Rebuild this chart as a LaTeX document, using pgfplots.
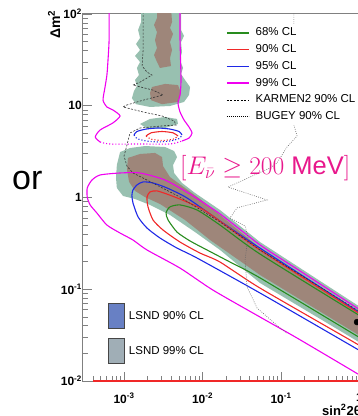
\documentclass[border=0pt]{standalone}
\usepackage{fix-cm}
\usepackage[no-math]{fontspec}
\setmainfont{Liberation Sans}
\usepackage{pgfplots}
\pgfplotsset{compat=1.18}

\definecolor{cl68}{RGB}{40,140,30}
\definecolor{cl90}{RGB}{240,40,40}
\definecolor{cl95}{RGB}{30,40,230}
\definecolor{cl99}{RGB}{240,0,240}
\definecolor{lsndA}{RGB}{152,192,176}
\definecolor{lsndB}{RGB}{158,134,122}
\definecolor{boxblue}{RGB}{104,128,196}
\definecolor{boxgrey}{RGB}{160,174,182}
\definecolor{boxedge}{RGB}{70,70,70}
\definecolor{axisgrey}{RGB}{128,128,128}
\definecolor{cutpink}{RGB}{232,24,140}

\newcommand{\tl}[1]{\textbf{10\textsuperscript{#1}}}

\pgfplotsset{
  cont/.style={line width=1.1pt, smooth, tension=0.4, forget plot},
  region/.style={draw=none, forget plot},
}

\begin{document}
\begin{tikzpicture}
\useasboundingbox (0pt,0pt) rectangle (358pt,416pt);
\clip (0pt,0pt) rectangle (358pt,416pt);

\begin{axis}[
  name=main,
  at={(83pt,35pt)}, anchor=south west,
  scale only axis, width=284.4pt, height=367pt,
  xmode=log, ymode=log,
  xmin=3e-4, xmax=1.26, ymin=0.01, ymax=100,
  axis line style={draw=axisgrey, line width=1pt},
  tick style={draw=axisgrey, line width=0.6pt},
  tick align=inside, xtick pos=left, ytick pos=left,
  major tick length=9pt, minor tick length=5pt,
  xtick={1e-3,1e-2,1e-1,1},
  xticklabels={\tl{-3},\tl{-2},\tl{-1},\textbf{1}},
  minor xtick={4e-4,5e-4,6e-4,7e-4,8e-4,9e-4,2e-3,3e-3,4e-3,5e-3,6e-3,7e-3,8e-3,9e-3,2e-2,3e-2,4e-2,5e-2,6e-2,7e-2,8e-2,9e-2,0.2,0.3,0.4,0.5,0.6,0.7,0.8,0.9},
  ytick={0.01,0.1,1,10,100},
  yticklabels={\tl{-2},\tl{-1},\textbf{1},\textbf{10},\tl{2}},
  minor ytick={0.02,0.03,0.04,0.05,0.06,0.07,0.08,0.09,0.2,0.3,0.4,0.5,0.6,0.7,0.8,0.9,2,3,4,5,6,7,8,9,20,30,40,50,60,70,80,90},
  ticklabel style={font=\fontsize{12}{12}\selectfont, text=black},
  yticklabel style={inner xsep=1pt},
  xticklabel style={inner ysep=6pt, yshift=-6pt},
  legend style={at={(0.4888,0.9734)}, anchor=north west, draw=none, fill=white,
    font=\fontsize{11.5}{11.5}\selectfont, inner xsep=4pt, inner ysep=4pt,
    row sep=6.7pt, column sep=6pt,
    nodes={inner sep=0pt, text height=8pt, text depth=2pt}},
  legend cell align=left,
  legend image code/.code={\draw[#1] (0pt,0pt) -- (22pt,0pt);},
]

% LSND 99% CL allowed region
\addplot[region, fill=lsndA] coordinates {
 (1.65e-3,116) (5.32e-3,116) (5.32e-3,67) (5.81e-3,57.7) (5.32e-3,49.5) (5.48e-3,38.5)
 (5.17e-3,31.5) (5.65e-3,25.8) (5.32e-3,22.2) (5.98e-3,19.1) (6.93e-3,16.0) (6.73e-3,13.1)
 (5.81e-3,11.0) (3.85e-3,9.94) (2.14e-3,9.7) (1.42e-3,10.4) (1.26e-3,12.1) (1.34e-3,14.5)
 (1.46e-3,16.4) (1.38e-3,19.1) (1.55e-3,21.6) (1.46e-3,25.8) (1.60e-3,30.0) (1.38e-3,34.9)
 (1.60e-3,40.5) (1.42e-3,47.1) (1.60e-3,54.7) (1.51e-3,67) (1.65e-3,81.8)} -- cycle;
\addplot[region, fill=lsndA] coordinates {
 (1.60e-3,6.33) (2.14e-3,7.18) (3.33e-3,7.54) (4.73e-3,7.18) (4.87e-3,6.33) (3.33e-3,5.72) (2.02e-3,5.57)} -- cycle;
\addplot[region, fill=lsndA] coordinates {
 (8.9e-4,3.13) (1.19e-3,3.46) (1.85e-3,3.64) (3.33e-3,3.55) (4.34e-3,3.21) (4.73e-3,2.76)
 (4.21e-3,2.26) (4.34e-3,1.85) (5.48e-3,1.44) (8.02e-3,1.12) (1.67e-2,0.731) (5.40e-2,0.327)
 (0.930,0.0674) (1.84,0.0474) (1.84,0.0183) (0.930,0.0273) (5.40e-2,0.117) (1.67e-2,0.268)
 (8.02e-3,0.420) (3.85e-3,0.645) (2.14e-3,0.830) (1.38e-3,0.963) (9.7e-4,1.04) (8.1e-4,1.27)
 (7.9e-4,1.63) (8.1e-4,2.26)} -- cycle;

% LSND 90% CL allowed region
\addplot[region, fill=lsndB] coordinates {
 (2.63e-3,116) (3.97e-3,116) (4.09e-3,81.8) (3.85e-3,70.4) (4.21e-3,60.6) (3.85e-3,49.5)
 (4.09e-3,40.5) (3.85e-3,33.1) (3.97e-3,27.1) (2.87e-3,25.8) (2.63e-3,30.0) (2.41e-3,35.7)
 (2.63e-3,42.6) (2.48e-3,52) (2.63e-3,63.6) (2.41e-3,75.9) (2.63e-3,90.4)} -- cycle;
\addplot[region, fill=lsndB] coordinates {
 (2.27e-3,16.0) (3.33e-3,17.3) (4.87e-3,16.8) (5.32e-3,13.8) (4.87e-3,11.0) (3.05e-3,10.4)
 (2.21e-3,11.5) (2.14e-3,13.8)} -- cycle;
\addplot[region, fill=lsndB] coordinates {
 (1.12e-3,2.70) (1.60e-3,2.98) (2.48e-3,3.06) (3.05e-3,2.76) (3.14e-3,2.20) (3.85e-3,1.67)
 (5.98e-3,1.27) (9.29e-3,0.963) (1.67e-2,0.645) (5.40e-2,0.281) (0.930,0.0565) (1.84,0.0397)
 (1.84,0.0229) (0.930,0.0325) (5.40e-2,0.143) (1.25e-2,0.344) (5.98e-3,0.569) (2.87e-3,0.850)
 (1.85e-3,1.01) (1.38e-3,1.18) (1.16e-3,1.48) (1.09e-3,2.00)} -- cycle;

% 99% CL contours
\addplot[cont, cl99] coordinates {
 (6.45e-4,116) (6.45e-4,52) (6.25e-4,31.5) (6.05e-4,21.6) (5.7e-4,15.6) (5.4e-4,11.5)
 (6.05e-4,9.7) (7.2e-4,9.0) (8.9e-4,7.74) (7.2e-4,6.49) (4.95e-4,5.44) (4.3e-4,4.56) (4.95e-4,4.03)};
\addplot[cont, cl99, dotted] coordinates {
 (4.95e-4,4.03) (6.6e-4,3.83) (1.60e-3,3.83) (3.85e-3,3.83) (5.48e-3,4.13)};
\addplot[cont, cl99] coordinates {
 (5.48e-3,4.13) (6.73e-3,4.45) (7.35e-3,5.04) (6.73e-3,5.86) (5.81e-3,7.0) (5.17e-3,8.55)
 (4.87e-3,10.7) (5.17e-3,13.1) (5.32e-3,19.1) (5.17e-3,52) (5.17e-3,116)};
\addplot[cont, cl99] coordinates {
 (1.84,0.0429) (0.930,0.0625) (0.175,0.158) (5.40e-2,0.304) (1.67e-2,0.662) (6.93e-3,1.09)
 (3.33e-3,1.55) (1.60e-3,1.85) (8.9e-4,1.85) (4.95e-4,1.76) (3.9e-4,1.55) (3.4e-4,1.27)
 (3.4e-4,1.01) (3.7e-4,0.830) (4.5e-4,0.679) (6.05e-4,0.501) (8.9e-4,0.410) (1.30e-3,0.344)
 (1.96e-3,0.268) (5.17e-3,0.170) (1.36e-2,0.0978) (5.40e-2,0.0498) (0.160,0.0294)
 (0.957,0.0119) (1.84,0.0084)};

% 95% CL contours
\addplot[cont, cl95] coordinates {
 (1.84,0.0397) (0.930,0.0580) (5.40e-2,0.281) (1.67e-2,0.554) (6.34e-3,0.989) (3.53e-3,1.27)
 (2.34e-3,1.44) (1.75e-3,1.48) (1.46e-3,1.37) (1.30e-3,1.21) (1.26e-3,1.06) (1.30e-3,0.872)
 (1.51e-3,0.614) (1.96e-3,0.465) (2.87e-3,0.362) (4.73e-3,0.281) (8.51e-3,0.219)
 (5.40e-2,0.0910) (0.930,0.0223) (1.84,0.0157)};
\addplot[cont, cl95] coordinates {
 (5.48e-3,4.80) (5.02e-3,5.24) (3.85e-3,5.57) (2.71e-3,5.72) (1.91e-3,5.57) (1.46e-3,5.24) (1.34e-3,4.80)};
\addplot[cont, cl95, dotted] coordinates {
 (1.34e-3,4.80) (1.46e-3,4.39) (1.91e-3,4.13) (2.71e-3,4.03) (3.85e-3,4.13) (5.02e-3,4.39) (5.48e-3,4.80)};

% 90% CL contours
\addplot[cont, cl90] coordinates {
 (1.84,0.0387) (0.930,0.0565) (5.40e-2,0.268) (1.14e-2,0.696) (6.34e-3,0.893) (3.85e-3,1.06)
 (2.63e-3,1.18) (2.14e-3,1.15) (1.96e-3,1.01) (2.02e-3,0.791) (2.34e-3,0.569) (3.14e-3,0.442)
 (5.17e-3,0.327) (9.29e-3,0.248) (1.67e-2,0.198) (5.40e-2,0.103) (0.930,0.0253) (1.84,0.0178)};
\addplot[cont, cl90] coordinates {
 (4.87e-3,4.68) (4.21e-3,5.07) (3.05e-3,5.24) (2.21e-3,5.07) (1.91e-3,4.68)};
\addplot[cont, cl90, dotted] coordinates {
 (1.91e-3,4.68) (2.21e-3,4.32) (3.05e-3,4.18) (4.21e-3,4.32) (4.87e-3,4.68)};
\addplot[cl90, line width=1.6pt, forget plot] coordinates {(4.0e-4,0.01) (2,0.01)};

% 68% CL contour
\addplot[cont, cl68] coordinates {
 (1.84,0.0378) (0.930,0.0537) (5.40e-2,0.242) (1.67e-2,0.501) (8.51e-3,0.731) (5.17e-3,0.830)
 (3.85e-3,0.791) (3.43e-3,0.679) (3.64e-3,0.569) (4.73e-3,0.420) (6.93e-3,0.336) (1.14e-2,0.268)
 (2.24e-2,0.198) (5.40e-2,0.133) (0.930,0.0309) (1.84,0.0218)};

% KARMEN2 90% CL exclusion
\addplot[black!80, line width=0.6pt, dash pattern=on 2pt off 1.5pt, forget plot] coordinates {
 (1.75e-3,116) (1.75e-3,40.5) (1.70e-3,27.1) (1.96e-3,23.3) (2.27e-3,21.6) (1.60e-3,18.1)
 (1.30e-3,16.8) (2.34e-3,14.8) (3.14e-3,13.1) (1.75e-3,11.5) (1.09e-3,10.2) (9.7e-4,9.7)
 (1.75e-3,8.55) (3.05e-3,7.74) (4.34e-3,6.83) (4.60e-3,6.17) (2.87e-3,6.0) (1.60e-3,5.72)
 (1.19e-3,5.04) (1.09e-3,3.73) (1.0e-3,2.83) (1.09e-3,2.20) (1.30e-3,1.85) (1.96e-3,1.55)
 (5.17e-3,1.01) (1.67e-2,0.541) (5.40e-2,0.268) (0.930,0.0595) (1.84,0.0418)};

% BUGEY 90% CL exclusion
\addplot[black!60, line width=0.6pt, dash pattern=on 0.8pt off 1.4pt, forget plot] coordinates {
 (0.146,116) (0.146,6.17) (0.160,4.68) (0.119,3.55) (8.90e-2,2.38) (7.24e-2,2.10)
 (2.11e-2,1.30) (6.63e-2,0.940) (2.75e-2,0.771) (2.24e-2,0.599)
 (3.48e-2,0.489) (3.80e-2,0.371) (3.48e-2,0.208) (3.69e-2,0.106) (4.95e-2,0.0625)
 (9.71e-2,0.0378) (0.119,0.0333)};

% best fit point
\addplot[only marks, mark=*, mark size=3pt, black, forget plot] coordinates {(0.930,0.0439)};

\addlegendimage{cl68, line width=1.4pt}
\addlegendentry{68\% CL}
\addlegendimage{cl90, line width=1.4pt}
\addlegendentry{90\% CL}
\addlegendimage{cl95, line width=1.4pt}
\addlegendentry{95\% CL}
\addlegendimage{cl99, line width=1.4pt}
\addlegendentry{99\% CL}
\addlegendimage{black, line width=0.5pt, dash pattern=on 2pt off 1.5pt}
\addlegendentry{KARMEN2 90\% CL}
\addlegendimage{black, line width=0.5pt, dash pattern=on 0.8pt off 1.2pt}
\addlegendentry{BUGEY 90\% CL}
\end{axis}

\begin{axis}[
  at={(83pt,35pt)}, anchor=south west,
  scale only axis, width=284.4pt, height=367pt,
  hide axis, xmin=0, xmax=1, ymin=0, ymax=1,
  legend style={at={(0.0738,0.2234)}, anchor=north west, draw=none, fill=none,
    font=\fontsize{11.5}{11.5}\selectfont, inner xsep=4pt, inner ysep=4pt,
    row sep=9pt, column sep=4pt,
    nodes={inner sep=0pt}},
  legend cell align=left,
  legend image code/.code={\draw[#1] (0pt,-12.5pt) rectangle (16pt,12.5pt);},
]
\addlegendimage{fill=boxblue, draw=boxedge, line width=0.8pt}
\addlegendentry{LSND 90\% CL}
\addlegendimage{fill=boxgrey, draw=boxedge, line width=0.8pt}
\addlegendentry{LSND 99\% CL}
\end{axis}

\node[rotate=90, anchor=base east, inner sep=0pt, font=\bfseries\fontsize{14}{14}\selectfont]
  at (60pt,406pt) {Δm\textsuperscript{2}};
\node[anchor=base west, inner sep=0pt, font=\bfseries\fontsize{13}{13}\selectfont]
  at (322pt,1pt) {sin\textsuperscript{2}2θ};
\node[anchor=base west, inner sep=0pt, font=\fontsize{34}{34}\selectfont]
  at (12pt,226pt) {or};
\node[anchor=base west, inner sep=0pt, text=cutpink, font=\fontsize{25.5}{25.5}\selectfont]
  at (180pt,241pt) {$[E_{\bar\nu} \geq 200$~MeV$]$};
\end{tikzpicture}
\end{document}
